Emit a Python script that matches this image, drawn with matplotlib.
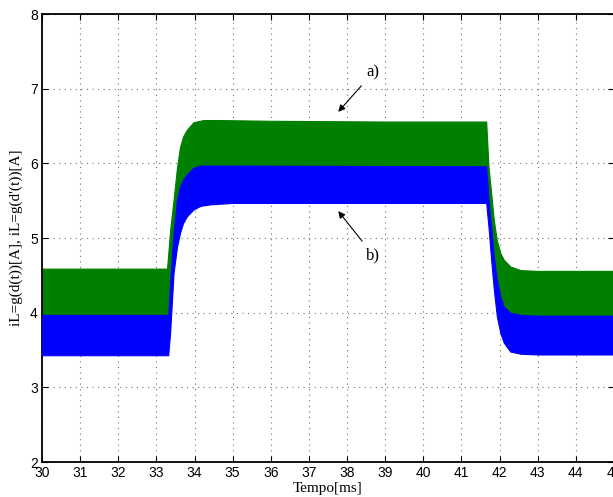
import matplotlib
matplotlib.use("Agg")
import matplotlib.pyplot as plt
import numpy as np

# Envelope readings (time in ms, current in A)
t_blue = [30.0, 33.31, 33.36, 33.45, 33.54, 33.62, 33.70, 33.80, 33.97, 34.15, 34.40, 35.0,
          41.65, 41.71, 41.78, 41.85, 41.93, 42.02, 42.11, 42.28, 42.55, 43.0, 45.0]
blue_low = [3.43, 3.43, 3.73, 4.53, 4.88, 5.07, 5.20, 5.29, 5.38, 5.43, 5.45, 5.47,
            5.47, 5.15, 4.71, 4.31, 3.95, 3.73, 3.60, 3.48, 3.45, 3.44, 3.44]
blue_high = [3.97, 3.97, 4.40, 5.07, 5.51, 5.69, 5.78, 5.85, 5.94, 5.97, 5.97, 5.97,
             5.96, 5.51, 5.15, 4.75, 4.44, 4.22, 4.08, 4.00, 3.97, 3.96, 3.96]

t_green = [30.0, 33.28, 33.36, 33.45, 33.54, 33.62, 33.70, 33.80, 33.97, 34.23, 34.6, 36.0, 39.0,
           41.65, 41.71, 41.78, 41.85, 41.93, 42.02, 42.11, 42.28, 42.55, 43.0, 45.0]
green_low = [3.90, 3.90, 4.35, 5.00, 5.45, 5.62, 5.70, 5.77, 5.85, 5.88, 5.88, 5.88, 5.88,
             5.88, 5.52, 5.15, 4.75, 4.42, 4.20, 4.05, 3.94, 3.90, 3.89, 3.89]
green_high = [4.59, 4.59, 5.10, 5.51, 5.94, 6.22, 6.36, 6.45, 6.55, 6.58, 6.58, 6.57, 6.56,
              6.56, 5.96, 5.60, 5.24, 4.97, 4.80, 4.71, 4.62, 4.57, 4.56, 4.56]

x_ticks = list(range(30, 46))
y_ticks = list(range(2, 9))

fig = plt.figure(figsize=(6.13, 4.97), dpi=100)
ax = fig.add_axes([0.0685, 0.0704, 0.9330, 0.9014])

ax.fill_between(t_green, green_low, green_high, color=(0, 0.5, 0), lw=0.8, zorder=2)
ax.fill_between(t_blue, blue_low, blue_high, color=(0, 0, 1), lw=0.8, zorder=3)

ax.set_xlim(30, 45)
ax.set_ylim(2, 8)
ax.set_xticks(x_ticks)
ax.set_yticks(y_ticks)
for lab in ax.get_xticklabels() + ax.get_yticklabels():
    lab.set_family("Liberation Sans")
    lab.set_fontsize(10)
ax.tick_params(direction="in", top=True, right=True, length=4, width=0.8, pad=3)
ax.grid(True, color="0.45", linestyle=(0, (1, 4)), linewidth=0.8)
ax.set_axisbelow(True)
for s in ax.spines.values():
    s.set_linewidth(1.3)

ax.set_xlabel("Tempo[ms]", family="Liberation Serif", fontsize=11, labelpad=1)
ax.set_ylabel("iL=g(d(t))[A], iL=g(d'(t))[A]", family="Liberation Serif", fontsize=11, labelpad=5)

ax.annotate("a)", xy=(37.77, 6.69), xytext=(38.69, 7.22), family="Liberation Serif", fontsize=12,
            ha="center", va="center",
            arrowprops=dict(arrowstyle="-|>", color="black", lw=0.8, shrinkA=3, shrinkB=0,
                            mutation_scale=10))
ax.annotate("b)", xy=(37.77, 5.36), xytext=(38.69, 4.77), family="Liberation Serif", fontsize=12,
            ha="center", va="center",
            arrowprops=dict(arrowstyle="-|>", color="black", lw=0.8, shrinkA=3, shrinkB=0,
                            mutation_scale=10))

fig.savefig("out.png", dpi=100)
